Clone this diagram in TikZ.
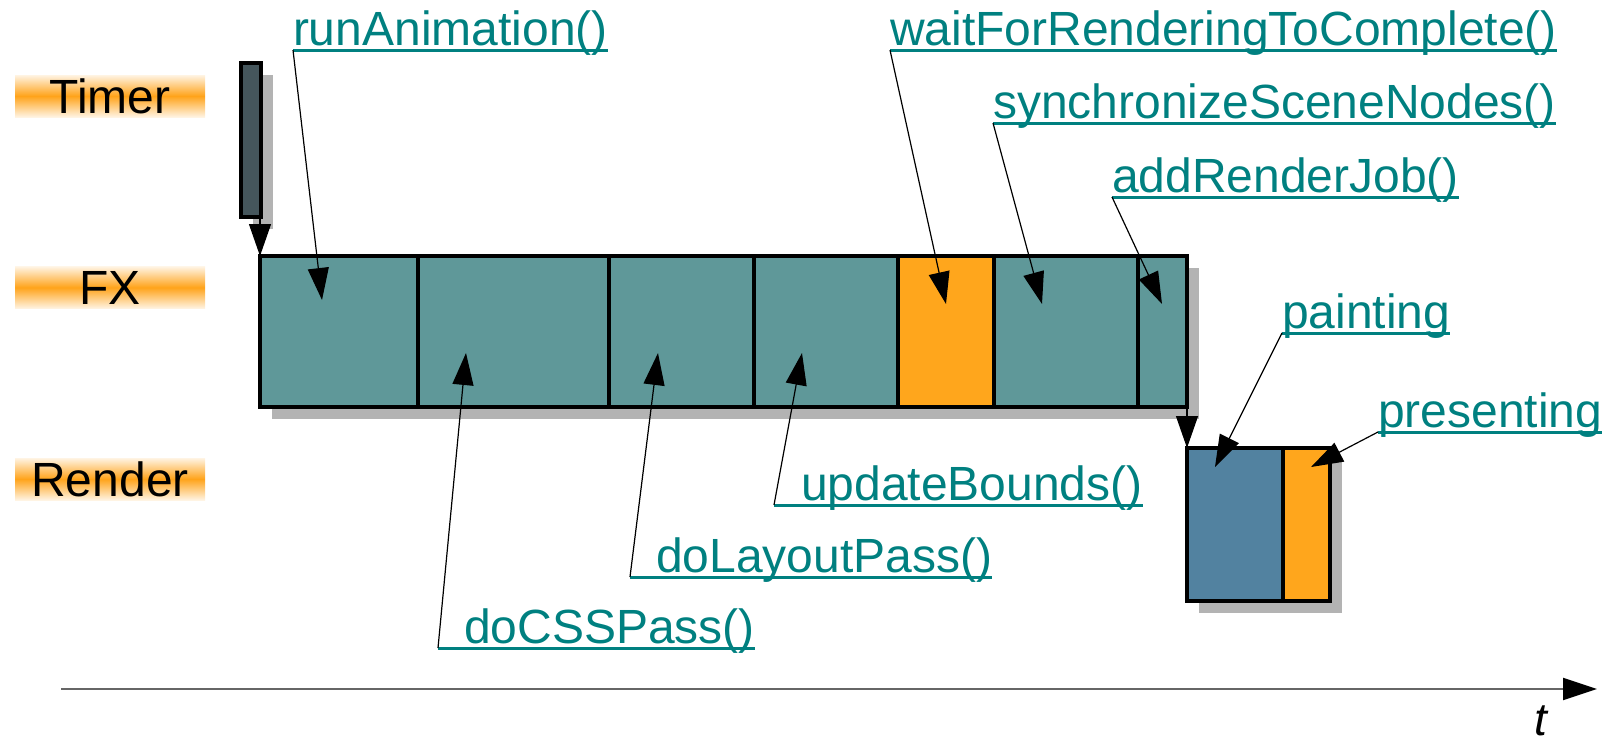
\documentclass[tikz,border=0pt]{standalone}
\usepackage{fontspec}
\setmainfont{Liberation Sans}
\usetikzlibrary{arrows.meta,calc,backgrounds}
\definecolor{fxteal}{HTML}{5F9899}
\definecolor{fxorange}{HTML}{FFA61C}
\definecolor{rblue}{HTML}{5282A0}
\definecolor{tdark}{HTML}{45565C}
\definecolor{shadowgray}{HTML}{B3B3B3}
\definecolor{linkteal}{HTML}{008080}
\definecolor{laneorange}{HTML}{FFA31A}
\definecolor{axisgray}{HTML}{666666}
\begin{document}
\begin{tikzpicture}[x=1pt,y=-1pt,
  lane/.style={shade, top color=laneorange!12, bottom color=laneorange!12,
    middle color=laneorange, minimum width=190pt, minimum height=42pt,
    inner sep=0pt, font=\fontsize{48}{52}\selectfont},
  seg/.style={draw=black, line width=3.5pt, inner sep=0pt, outer sep=0pt,
    anchor=north west, minimum height=151pt},
  lbl/.style={text=linkteal, anchor=base west, inner sep=0pt, outer sep=0pt,
    font=\fontsize{48}{52}\selectfont},
  uline/.style={draw=linkteal, line width=3pt},
  leader/.style={draw=black, line width=1.2pt, -{Triangle[length=32pt,width=21pt]}},
  handoff/.style={draw=black, line width=1.2pt, -{Triangle[length=32pt,width=22pt]}},
  shadowbox/.style={fill=shadowgray}]
\useasboundingbox (0,0) rectangle (1607,744);

% thread lanes
\node[lane] (timer) at (110,96) {Timer};
\node[lane] (fx) at (110,287.5) {FX};
\node[lane] (render) at (110,479) {Render};

% timer pulse
\node[seg, fill=tdark, minimum width=20pt, minimum height=154pt] (tbar) at (241,63) {};

% FX pulse phases
\node[seg, fill=fxteal, minimum width=158pt] (s1) at (260,256) {};
\node[seg, fill=fxteal, minimum width=191pt] (s2) at (418,256) {};
\node[seg, fill=fxteal, minimum width=145pt] (s3) at (609,256) {};
\node[seg, fill=fxteal, minimum width=144pt] (s4) at (754,256) {};
\node[seg, fill=fxorange, minimum width=96pt] (s5) at (898,256) {};
\node[seg, fill=fxteal, minimum width=144pt] (s6) at (994,256) {};
\node[seg, fill=fxteal, minimum width=49pt] (s7) at (1138,256) {};

% render thread
\node[seg, fill=rblue, minimum width=96pt, minimum height=153pt] (r1) at (1187,448) {};
\node[seg, fill=fxorange, minimum width=47pt, minimum height=153pt] (r2) at (1283,448) {};

% drop shadows
\begin{pgfonlayer}{background}
  \fill[shadowbox] ($(tbar.north west)+(12,12)$) rectangle ($(tbar.south east)+(12,12)$);
  \fill[shadowbox] ($(s1.north west)+(12,12)$) rectangle ($(s7.south east)+(12,12)$);
  \fill[shadowbox] ($(r1.north west)+(12,12)$) rectangle ($(r2.south east)+(12,12)$);
\end{pgfonlayer}

% hand-offs between threads
\draw[handoff] (s1.north west |- tbar.south) -- (s1.north west);
\draw[handoff] (s7.south east) -- (r1.north west);

% method labels
\node[lbl] (Lrun) at (293,45) {runAnimation()};
\node[lbl] (Lwait) at (890,45) {waitForRenderingToComplete()};
\node[lbl] (Lsync) at (993,118) {synchronizeSceneNodes()};
\node[lbl] (Ladd) at (1112,192) {addRenderJob()};
\node[lbl] (Lpaint) at (1282,328) {painting};
\node[lbl] (Lpres) at (1378,427) {presenting};
\node[lbl] (Lupd) at (774,500) {\hspace{27pt}updateBounds()};
\node[lbl] (Llay) at (630,572) {\hspace{26pt}doLayoutPass()};
\node[lbl] (Lcss) at (438,643) {\hspace{26pt}doCSSPass()};

\foreach \n in {Lrun,Lwait,Lsync,Ladd,Lpaint,Lpres,Lupd,Llay,Lcss}
  \draw[uline] ($(\n.base west)+(0,5)$) coordinate (\n-u) -- ($(\n.base east)+(0,5)$);

% leader tips inside the phases
\coordinate (Trun) at (322,300);
\coordinate (Tcss) at (466,353);
\coordinate (Tlay) at (658,353);
\coordinate (Tupd) at (802,353);
\coordinate (Twait) at (946,304);
\coordinate (Tsync) at (1042,304);
\coordinate (Tadd) at (1162,304);
\coordinate (Tpaint) at (1215,467);
\coordinate (Tpres) at (1311,467);

\draw[leader] (Lrun-u) -- (Trun);
\draw[leader] (Lcss-u) -- (Tcss);
\draw[leader] (Llay-u) -- (Tlay);
\draw[leader] (Lupd-u) -- (Tupd);
\draw[leader] (Lwait-u) -- (Twait);
\draw[leader] (Lsync-u) -- (Tsync);
\draw[leader] (Ladd-u) -- (Tadd);
\draw[leader] (Lpaint-u) -- (Tpaint);
\draw[leader] (Lpres-u) -- (Tpres);

% time axis
\coordinate (ax0) at (61,689);
\coordinate (ax1) at (1597,689);
\draw[draw=axisgray, line width=2pt, -{Triangle[length=34pt,width=22pt,color=black]}] (ax0) -- (ax1);
\node[anchor=base west, inner sep=0pt, font=\fontsize{46}{50}\selectfont\itshape] (tlabel) at (1534,735) {t};
\end{tikzpicture}
\end{document}
